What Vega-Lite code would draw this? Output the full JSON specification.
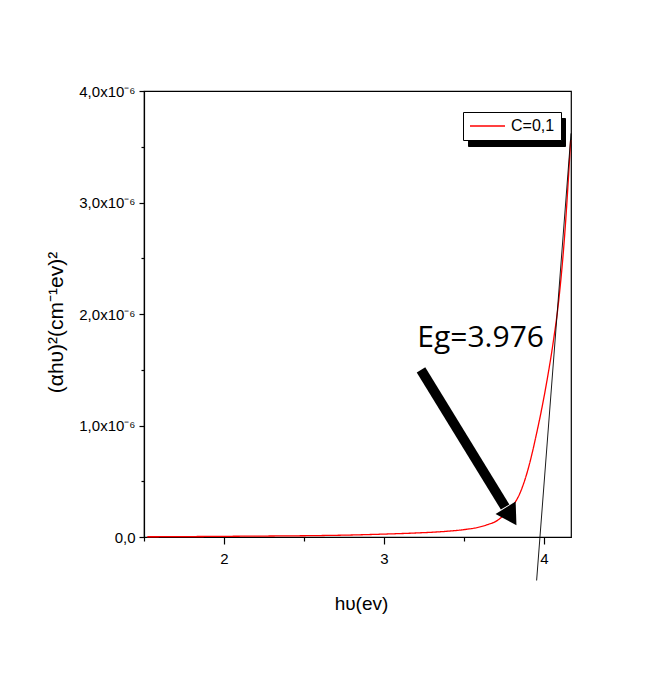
{
  "$schema": "https://vega.github.io/schema/vega-lite/v6.json",
  "width": 427,
  "height": 446,
  "autosize": {"type": "none"},
  "padding": {"left": 144, "top": 91, "right": 81, "bottom": 144},
  "background": "white",
  "config": {
    "view": {"stroke": "black", "strokeWidth": 1.2},
    "font": "Liberation Sans",
    "axis": {"grid": false, "domainColor": "black", "domainWidth": 1.2, "tickColor": "black", "tickWidth": 1.2, "labelColor": "black", "titleColor": "black", "titleFontWeight": "normal", "labelFont": "Liberation Sans", "titleFont": "Liberation Sans"}
  },
  "datasets": {
    "curve": [
      {"x": 1.52, "y": 2e-9, "series": "C=0,1", "shadow": "C=0,1"},
      {"x": 1.8, "y": 4e-9, "series": "C=0,1", "shadow": "C=0,1"},
      {"x": 2.0, "y": 6e-9, "series": "C=0,1", "shadow": "C=0,1"},
      {"x": 2.3, "y": 9e-9, "series": "C=0,1", "shadow": "C=0,1"},
      {"x": 2.6, "y": 1.3e-8, "series": "C=0,1", "shadow": "C=0,1"},
      {"x": 2.8, "y": 1.8e-8, "series": "C=0,1", "shadow": "C=0,1"},
      {"x": 3.0, "y": 2.6e-8, "series": "C=0,1", "shadow": "C=0,1"},
      {"x": 3.2, "y": 3.6e-8, "series": "C=0,1", "shadow": "C=0,1"},
      {"x": 3.4, "y": 5.2e-8, "series": "C=0,1", "shadow": "C=0,1"},
      {"x": 3.5, "y": 6.6e-8, "series": "C=0,1", "shadow": "C=0,1"},
      {"x": 3.6, "y": 9e-8, "series": "C=0,1", "shadow": "C=0,1"},
      {"x": 3.65, "y": 1.12e-7, "series": "C=0,1", "shadow": "C=0,1"},
      {"x": 3.7, "y": 1.4e-7, "series": "C=0,1", "shadow": "C=0,1"},
      {"x": 3.75, "y": 1.95e-7, "series": "C=0,1", "shadow": "C=0,1"},
      {"x": 3.8, "y": 2.7e-7, "series": "C=0,1", "shadow": "C=0,1"},
      {"x": 3.85, "y": 3.9e-7, "series": "C=0,1", "shadow": "C=0,1"},
      {"x": 3.9, "y": 6e-7, "series": "C=0,1", "shadow": "C=0,1"},
      {"x": 3.955, "y": 9.3e-7, "series": "C=0,1", "shadow": "C=0,1"},
      {"x": 4.017, "y": 1.38e-6, "series": "C=0,1", "shadow": "C=0,1"},
      {"x": 4.058, "y": 1.74e-6, "series": "C=0,1", "shadow": "C=0,1"},
      {"x": 4.094, "y": 2.13e-6, "series": "C=0,1", "shadow": "C=0,1"},
      {"x": 4.13, "y": 2.7e-6, "series": "C=0,1", "shadow": "C=0,1"},
      {"x": 4.168, "y": 3.56e-6, "series": "C=0,1", "shadow": "C=0,1"}
    ],
    "tangent": [
      {"x": 3.955, "y": -3.9e-7},
      {"x": 4.17, "y": 3.62e-6}
    ],
    "arrow": [
      {"x": 3.232, "y": 1.498e-6},
      {"x": 3.758, "y": 2.69e-7}
    ],
    "head": [
      {"x": 3.795, "y": 1.84e-7}
    ],
    "label": [
      {"x": 3.605, "y": 1.7e-6, "text": "Eg=3.976"}
    ]
  },
  "layer": [
    {
      "data": {"name": "curve"},
      "mark": {"type": "line", "interpolate": "monotone", "strokeWidth": 1.3},
      "encoding": {
        "x": {
          "field": "x", "type": "quantitative",
          "scale": {"domain": [1.5, 4.17], "nice": false, "zero": false},
          "axis": {
            "title": "hυ(ev)", "titleFontSize": 19, "titleX": 217, "titleY": 66, "titleBaseline": "middle",
            "values": [1.5, 2, 2.5, 3, 3.5, 4],
            "labelExpr": "datum.value % 1 == 0 ? format(datum.value, 'd') : ''",
            "labelFontSize": 15, "labelPadding": 7,
            "tickSize": {"condition": {"test": "datum.value % 1 != 0", "value": 4}, "value": 7}
          }
        },
        "y": {
          "field": "y", "type": "quantitative",
          "scale": {"domain": [0, 4e-6], "nice": false},
          "axis": {
            "title": "(αhυ)²(cm⁻¹ev)²", "titleFontSize": 21, "titleX": -88, "titleY": 231, "titleBaseline": "middle",
            "values": [0, 5e-7, 1e-6, 1.5e-6, 2e-6, 2.5e-6, 3e-6, 3.5e-6, 4e-6],
            "labelExpr": "datum.value == 0 ? '0,0' : (round(datum.value * 1e7) % 10 != 0 ? '' : replace(format(datum.value * 1e6, '.1f'), '.', ',') + 'x10⁻⁶')",
            "labelFontSize": 15, "labelPadding": 4,
            "tickSize": {"condition": {"test": "round(datum.value * 1e7) % 10 != 0", "value": 3}, "value": 5}
          }
        },
        "color": {
          "field": "series", "type": "nominal",
          "scale": {"range": ["#ff0000"]},
          "legend": {
            "title": null, "orient": "none", "legendX": 319, "legendY": 21, "zindex": 2,
            "fillColor": "white", "strokeColor": "black", "padding": 6,
            "symbolType": "stroke", "symbolSize": 1225, "symbolStrokeWidth": 1.5, "clipHeight": 16,
            "labelFontSize": 16, "labelOffset": 5, "labelColor": "black", "labelFont": "Liberation Sans"
          }
        },
        "strokeDash": {
          "field": "shadow", "type": "nominal",
          "scale": {"range": [[1, 0]]},
          "legend": {
            "title": null, "orient": "none", "legendX": 324, "legendY": 27, "zindex": 1,
            "fillColor": "black", "strokeColor": "black", "padding": 6,
            "symbolType": "stroke", "symbolSize": 6889, "symbolStrokeColor": "black", "symbolStrokeWidth": 1.5, "clipHeight": 16,
            "labelExpr": "''", "labelOffset": 0, "labelFontSize": 16, "labelColor": "black"
          }
        }
      }
    },
    {
      "data": {"name": "tangent"},
      "mark": {"type": "line", "color": "black", "strokeWidth": 0.9, "clip": false},
      "encoding": {
        "x": {"field": "x", "type": "quantitative", "scale": {"domain": [1.5, 4.17], "nice": false, "zero": false}},
        "y": {"field": "y", "type": "quantitative", "scale": {"domain": [0, 4e-6], "nice": false}}
      }
    },
    {
      "data": {"name": "arrow"},
      "mark": {"type": "line", "color": "black", "strokeWidth": 10, "strokeCap": "butt"},
      "encoding": {
        "x": {"field": "x", "type": "quantitative", "scale": {"domain": [1.5, 4.17], "nice": false, "zero": false}},
        "y": {"field": "y", "type": "quantitative", "scale": {"domain": [0, 4e-6], "nice": false}}
      }
    },
    {
      "data": {"name": "head"},
      "mark": {"type": "point", "shape": "triangle-up", "filled": true, "color": "black", "opacity": 1, "size": 560, "angle": 148},
      "encoding": {
        "x": {"field": "x", "type": "quantitative", "scale": {"domain": [1.5, 4.17], "nice": false, "zero": false}},
        "y": {"field": "y", "type": "quantitative", "scale": {"domain": [0, 4e-6], "nice": false}}
      }
    },
    {
      "data": {"name": "label"},
      "mark": {"type": "text", "font": "Open Sans", "fontSize": 30, "color": "black", "align": "center", "baseline": "alphabetic"},
      "encoding": {
        "x": {"field": "x", "type": "quantitative", "scale": {"domain": [1.5, 4.17], "nice": false, "zero": false}},
        "y": {"field": "y", "type": "quantitative", "scale": {"domain": [0, 4e-6], "nice": false}},
        "text": {"field": "text"}
      }
    }
  ]
}
